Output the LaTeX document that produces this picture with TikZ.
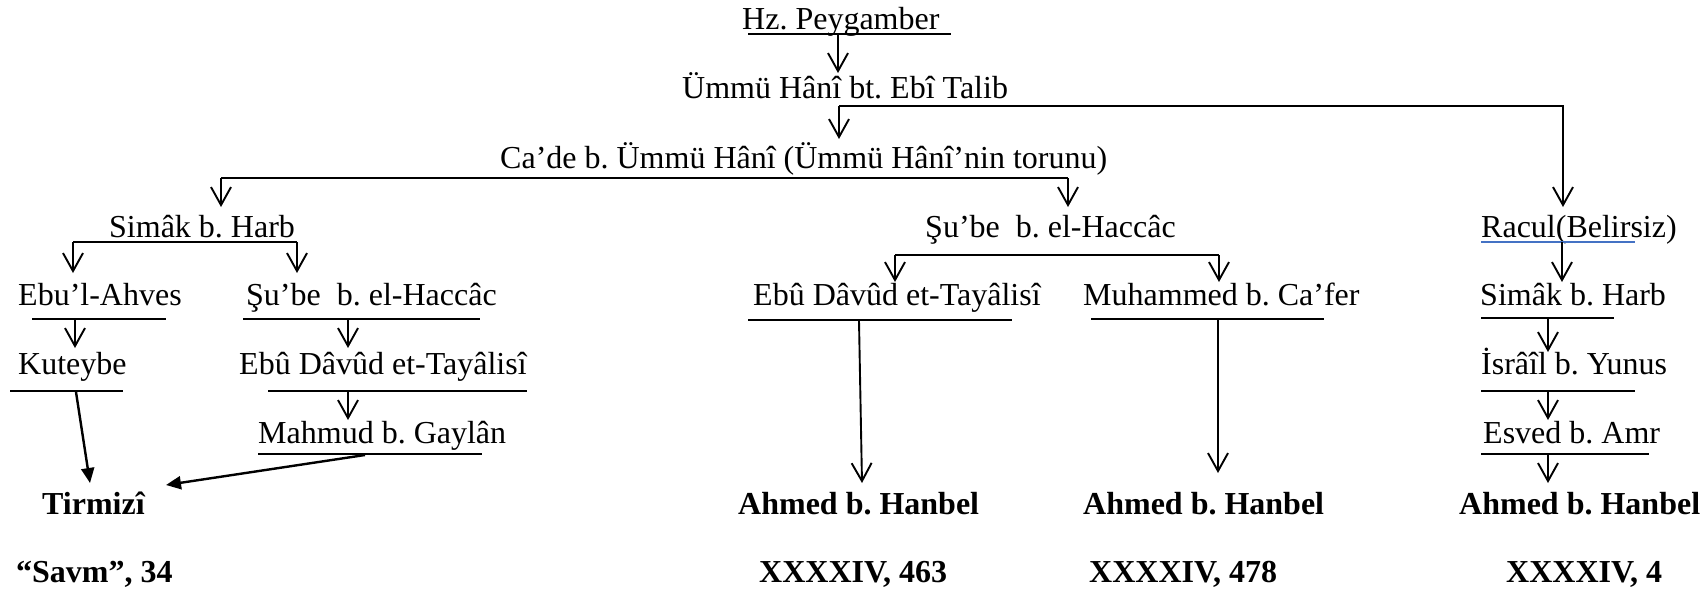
\documentclass[tikz,border=0pt]{standalone}
\usepackage{fontspec}
\setmainfont{Liberation Serif}
\usetikzlibrary{arrows.meta}
\definecolor{ulblue}{RGB}{68,114,196}
\frenchspacing
\begin{document}
\begin{tikzpicture}[x=1pt,y=-1pt,
  lbl/.style={anchor=base west,inner sep=0pt,font=\fontsize{32}{38}\selectfont\frenchspacing},
  bl/.style={anchor=base west,inner sep=0pt,font=\fontsize{32}{38}\selectfont\bfseries\frenchspacing},
  ul/.style={line width=1.9pt},
  arr/.style={line width=1.9pt,-{Straight Barb[length=18pt,width=20pt,line width=1.9pt]}},
  sarr/.style={line width=2.4pt,-{Triangle[length=15pt,width=13pt]}},
]
\useasboundingbox (0,0) rectangle (1707,594);

% ---- texts ----
\node[lbl] (hz)   at (742,30)  {Hz. Peygamber};
\node[lbl] (um)   at (682,98)  {Ümmü Hânî bt. Ebî Talib};
\node[lbl] (cade) at (500,168) {Ca’de b. Ümmü Hânî (Ümmü Hânî’nin torunu)};
\node[lbl] (simL) at (109,237) {Simâk b. Harb};
\node[lbl] (subM) at (925,237) {Şu’be\ \ b. el-Haccâc};
\node[lbl] (rac)  at (1481,237) {Racul(Belirsiz)};
\node[lbl] (ebu)  at (18,305)  {Ebu’l-Ahves};
\node[lbl] (subL) at (246,305) {Şu’be\ \ b. el-Haccâc};
\node[lbl] (edM)  at (753,305) {Ebû Dâvûd et-Tayâlisî};
\node[lbl] (muh)  at (1083,305) {Muhammed b. Ca’fer};
\node[lbl] (simR) at (1480,305) {Simâk b. Harb};
\node[lbl] (kut)  at (18,374)  {Kuteybe};
\node[lbl] (edL)  at (239,374) {Ebû Dâvûd et-Tayâlisî};
\node[lbl] (isr)  at (1481,374) {İsrâîl b. Yunus};
\node[lbl] (mah)  at (258,443) {Mahmud b. Gaylân};
\node[lbl] (esv)  at (1483,443) {Esved b. Amr};
\node[bl] (tir)   at (42,514)  {Tirmizî};
\node[bl] (ah1)   at (738,514) {Ahmed b. Hanbel};
\node[bl] (ah2)   at (1083,514) {Ahmed b. Hanbel};
\node[bl] (ah3)   at (1459,514) {Ahmed b. Hanbel};
\node[bl] (ref0)  at (16,582)  {“Savm”, 34};
\node[bl] (ref1)  at (759,582) {XXXXIV, 463};
\node[bl] (ref2)  at (1089,582) {XXXXIV, 478};
\node[bl] (ref3)  at (1506,582) {XXXXIV, 4};

% ---- underlines ----
\draw[ul] (748,34) -- (951,34);
\draw[ul] (73,242) -- (297,242);
\draw[ul] (32,319) -- (166,319);
\draw[ul] (10,391) -- (123,391);
\draw[ul] (243,319) -- (480,319);
\draw[ul] (268,391) -- (527,391);
\draw[ul] (258,454) -- (482,454);
\draw[ul] (748,320) -- (1012,320);
\draw[ul] (1091,319) -- (1324,319);
\draw[line width=1.3pt,ulblue] (1481,242) -- (1635,242);
\draw[ul] (1481,318) -- (1614,318);
\draw[ul] (1481,391) -- (1635,391);
\draw[ul] (1481,454) -- (1649,454);

% ---- connector points ----
\coordinate (hzS) at (838,34);   \coordinate (umE) at (838,73);
\coordinate (umS) at (839,106);  \coordinate (cadeE) at (839,139);
\coordinate (racK) at (1563,106); \coordinate (racE) at (1563,207);
\coordinate (cadeL) at (221,178); \coordinate (simLE) at (221,207);
\coordinate (cadeR) at (1068,178); \coordinate (subME) at (1068,207);
\coordinate (simLa) at (73,242);  \coordinate (ebuE) at (73,273);
\coordinate (simLb) at (297,242); \coordinate (subLE) at (297,273);
\coordinate (ebuS) at (75,319);   \coordinate (kutE) at (75,348);
\coordinate (subLS) at (348,319); \coordinate (edLE) at (348,348);
\coordinate (edLS) at (348,391);  \coordinate (mahE) at (348,420);
\coordinate (subMa) at (895,255); \coordinate (edME) at (895,282);
\coordinate (subMb) at (1219,255); \coordinate (muhE) at (1219,282);
\coordinate (racS) at (1562,242); \coordinate (simRE) at (1562,282);
\coordinate (simRS) at (1548,318); \coordinate (isrE) at (1548,352);
\coordinate (isrS) at (1548,391); \coordinate (esvE) at (1548,420);
\coordinate (esvS) at (1548,455); \coordinate (ah3E) at (1548,483);
\coordinate (edMS) at (859,321);  \coordinate (ah1E) at (862,483);
\coordinate (muhS) at (1218,319); \coordinate (ah2E) at (1218,473);
\coordinate (kutS) at (76,392);   \coordinate (tirA) at (90,483);
\coordinate (mahS) at (365,455);  \coordinate (tirB) at (166,485);

% ---- connectors ----
\draw[arr] (hzS) -- (umE);
\draw[arr] (umS) -- (cadeE);
\draw[arr] (umS) -- (racK) -- (racE);
\draw[ul] (cadeL) -- (cadeR);
\draw[arr] (cadeL) -- (simLE);
\draw[arr] (cadeR) -- (subME);
\draw[arr] (simLa) -- (ebuE);
\draw[arr] (simLb) -- (subLE);
\draw[arr] (ebuS) -- (kutE);
\draw[arr] (subLS) -- (edLE);
\draw[arr] (edLS) -- (mahE);
\draw[ul] (subMa) -- (subMb);
\draw[arr] (subMa) -- (edME);
\draw[arr] (subMb) -- (muhE);
\draw[arr] (racS) -- (simRE);
\draw[arr] (simRS) -- (isrE);
\draw[arr] (isrS) -- (esvE);
\draw[arr] (esvS) -- (ah3E);
\draw[arr] (edMS) -- (ah1E);
\draw[arr] (muhS) -- (ah2E);
\draw[sarr] (kutS) -- (tirA);
\draw[sarr] (mahS) -- (tirB);
\end{tikzpicture}
\end{document}
